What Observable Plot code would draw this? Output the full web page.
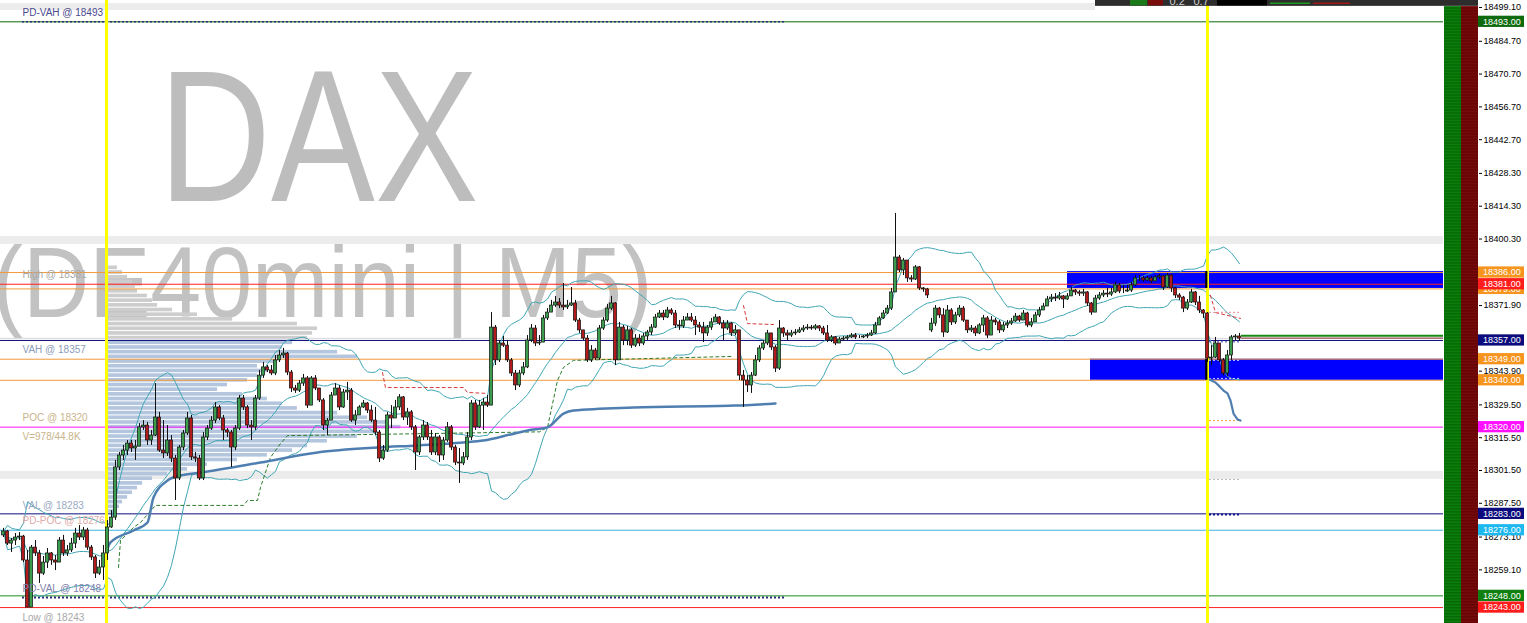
<!DOCTYPE html>
<html><head><meta charset="utf-8">
<script src="https://cdn.jsdelivr.net/npm/d3@7"></script>
<script src="https://cdn.jsdelivr.net/npm/@observablehq/plot@0.6"></script>
<style>html,body{margin:0;padding:0;background:#fff;overflow:hidden}#chart svg{display:block}</style>
</head><body><div id="chart"></div>
<script>
// ---------- DATA (DAX / DE40mini, M5 candles, index = bar number) ----------
const closes = [
18275.5,18270.3,18271.6,18272.9,18273.3,18263.1,18243.0,18268.6,18266.1,18257.5,
18262.2,18266.1,18263.1,18262.2,18271.6,18266.1,18267.4,18270.3,18274.6,18272.9,
18275.9,18268.6,18264.4,18257.5,18260.1,18266.1,18277.2,18281.4,18302.8,18307.9,
18310.0,18313.0,18310.9,18311.7,18319.9,18320.7,18314.3,18316.4,18324.1,18310.0,
18308.8,18314.3,18306.6,18298.1,18311.3,18317.3,18323.7,18307.1,18306.6,18298.1,
18315.6,18319.4,18322.8,18328.4,18323.7,18318.6,18317.7,18311.3,18319.4,18332.2,
18328.4,18320.7,18319.9,18332.2,18342.0,18345.5,18344.2,18342.9,18348.5,18350.6,
18351.4,18343.3,18336.5,18335.6,18338.6,18340.8,18329.2,18340.8,18336.5,18331.4,
18320.7,18322.8,18333.5,18336.5,18328.4,18334.8,18335.6,18322.8,18325.0,18328.4,
18330.1,18327.1,18322.8,18317.7,18306.6,18310.0,18325.0,18323.7,18328.4,18332.7,
18324.1,18326.3,18319.9,18309.2,18315.6,18320.7,18315.6,18309.2,18315.6,18307.9,
18314.3,18319.9,18311.3,18304.9,18304.5,18307.1,18315.6,18330.1,18319.9,18329.2,
18330.5,18329.2,18362.5,18348.5,18355.7,18354.8,18348.5,18342.9,18337.8,18342.9,
18345.5,18357.0,18362.1,18355.7,18356.1,18366.4,18368.9,18371.9,18373.2,18371.9,
18371.1,18371.9,18372.8,18365.5,18361.3,18357.8,18348.5,18352.7,18349.3,18362.1,
18365.5,18370.6,18372.8,18348.5,18362.5,18357.0,18361.3,18354.8,18357.8,18355.7,
18358.7,18360.4,18362.5,18366.8,18368.5,18366.8,18369.8,18368.5,18363.4,18363.0,
18365.5,18366.8,18365.5,18363.4,18362.5,18360.0,18362.5,18364.7,18366.8,18364.2,
18362.1,18364.2,18360.0,18361.3,18342.0,18339.9,18337.8,18342.0,18348.5,18353.6,
18355.7,18360.0,18354.0,18345.0,18362.1,18360.0,18359.1,18360.0,18360.4,18361.3,
18362.1,18362.5,18362.1,18363.0,18362.1,18360.0,18357.0,18358.3,18355.7,18357.4,
18357.8,18358.3,18359.1,18358.3,18358.3,18358.7,18359.1,18360.0,18363.4,18366.4,
18368.5,18370.6,18377.5,18392.4,18386.9,18391.1,18383.5,18383.0,18388.2,18379.2,
18378.8,18376.2,18364.2,18370.6,18367.7,18360.4,18369.8,18364.7,18367.7,18370.6,
18365.5,18361.3,18362.1,18360.0,18363.4,18366.4,18359.1,18365.5,18364.7,18361.3,
18363.4,18364.2,18365.1,18367.2,18365.5,18368.5,18363.4,18364.7,18367.7,18369.8,
18371.5,18374.5,18375.3,18374.9,18375.8,18374.5,18375.8,18378.3,18377.5,18377.0,
18377.5,18372.8,18368.9,18374.9,18376.2,18377.0,18376.6,18377.5,18380.5,18377.9,
18377.9,18378.3,18380.5,18383.5,18383.5,18382.6,18383.5,18382.2,18383.9,18384.3,
18379.6,18384.7,18379.2,18376.2,18375.3,18370.6,18373.2,18377.5,18373.2,18369.8,
18368.5,18349.3,18349.7,18355.7,18348.5,18342.9,18350.6,18358.3,18358.7,18357.8];
const highs = [
18276.8,18275.9,18272.5,18274.6,18275.0,18273.8,18267.4,18269.5,18271.6,18267.4,
18264.8,18268.2,18266.5,18265.2,18272.9,18273.8,18269.5,18272.5,18276.8,18278.0,
18277.2,18276.8,18269.5,18265.2,18263.1,18269.5,18280.2,18284.4,18305.8,18309.2,
18312.2,18314.3,18314.3,18314.3,18321.5,18322.8,18322.0,18318.6,18338.6,18326.3,
18322.8,18320.7,18316.4,18307.9,18312.2,18318.6,18326.3,18325.0,18309.2,18307.9,
18317.7,18320.7,18324.5,18330.5,18329.2,18325.0,18319.4,18318.6,18320.7,18333.5,
18333.5,18329.2,18322.8,18333.5,18344.2,18347.6,18346.3,18346.3,18350.6,18352.7,
18353.6,18351.9,18344.2,18337.8,18339.9,18342.5,18341.6,18341.6,18342.0,18336.5,
18332.2,18323.7,18334.8,18338.6,18337.8,18336.1,18339.1,18336.5,18327.1,18329.2,
18331.4,18330.5,18329.2,18328.4,18318.6,18312.2,18326.3,18329.2,18331.4,18333.9,
18333.1,18328.0,18327.1,18320.7,18316.4,18322.8,18322.0,18318.6,18317.3,18316.4,
18315.6,18322.0,18320.7,18312.2,18310.9,18309.2,18317.7,18331.4,18331.4,18331.4,
18332.2,18333.5,18368.9,18363.4,18357.0,18358.7,18357.0,18349.3,18344.2,18344.2,
18347.6,18359.1,18363.8,18363.4,18359.1,18367.7,18370.6,18374.1,18375.8,18374.9,
18381.3,18374.1,18379.6,18374.1,18366.4,18361.3,18359.1,18354.8,18353.6,18363.4,
18366.8,18372.4,18375.8,18373.2,18364.7,18363.4,18363.0,18362.1,18359.5,18359.5,
18360.0,18361.3,18363.8,18368.1,18369.8,18369.8,18371.1,18370.6,18369.8,18365.5,
18367.2,18368.5,18368.5,18367.2,18364.7,18364.7,18363.4,18366.4,18368.1,18367.2,
18365.5,18365.5,18364.7,18363.4,18361.3,18344.2,18342.0,18343.3,18350.6,18354.8,
18357.0,18361.3,18360.0,18354.8,18365.5,18362.5,18361.3,18361.3,18361.7,18362.5,
18363.4,18363.8,18363.4,18363.8,18363.4,18363.0,18363.4,18359.1,18358.7,18358.3,
18358.7,18359.1,18360.0,18360.0,18359.1,18359.1,18360.0,18361.3,18364.7,18367.2,
18369.8,18371.9,18379.2,18411.2,18393.3,18392.0,18391.1,18384.7,18389.0,18388.6,
18379.6,18379.2,18366.4,18371.9,18371.1,18370.6,18371.9,18370.6,18369.0,18371.9,
18371.5,18365.5,18363.4,18363.0,18364.2,18367.7,18367.2,18367.2,18366.4,18365.5,
18364.7,18365.5,18366.4,18368.5,18367.7,18369.8,18369.0,18366.4,18369.0,18371.1,
18372.8,18375.8,18376.6,18377.0,18377.5,18376.2,18377.0,18379.6,18378.8,18378.3,
18378.8,18377.9,18373.2,18376.2,18377.5,18378.3,18379.2,18379.2,18381.8,18381.3,
18380.5,18380.5,18381.8,18384.7,18384.7,18384.3,18384.3,18384.3,18384.7,18385.2,
18384.7,18385.6,18385.2,18379.6,18377.0,18375.8,18374.5,18378.8,18377.9,18375.8,
18370.2,18368.9,18354.8,18358.3,18355.7,18349.3,18352.7,18359.1,18359.5,18360.0];
const lows = [
18272.9,18269.5,18266.5,18269.5,18271.6,18262.2,18243.0,18243.0,18264.8,18253.3,
18256.7,18259.7,18261.0,18258.8,18262.2,18264.8,18264.8,18266.5,18268.2,18271.6,
18271.6,18267.4,18263.1,18255.4,18256.7,18254.6,18263.1,18276.8,18280.2,18301.5,
18305.8,18307.9,18309.2,18305.8,18312.2,18318.6,18312.2,18312.2,18316.0,18309.2,
18306.6,18307.5,18304.9,18288.7,18297.2,18310.0,18316.4,18305.8,18304.9,18297.2,
18297.2,18314.3,18318.6,18321.5,18322.8,18314.3,18315.6,18302.8,18310.0,18318.6,
18327.1,18319.4,18314.3,18318.6,18331.4,18340.8,18343.3,18342.0,18342.0,18347.6,
18349.3,18342.0,18334.8,18334.4,18334.8,18337.4,18328.0,18329.2,18335.6,18330.5,
18318.6,18316.4,18322.8,18333.5,18327.1,18328.0,18331.4,18322.0,18320.7,18325.0,
18328.0,18325.8,18322.0,18316.4,18304.9,18305.8,18309.2,18319.4,18323.7,18327.1,
18322.8,18320.7,18318.6,18301.5,18307.9,18314.3,18314.3,18307.9,18307.9,18304.9,
18305.8,18313.5,18310.0,18303.6,18296.0,18303.6,18305.8,18314.3,18318.6,18319.4,
18318.6,18328.4,18329.2,18346.3,18347.6,18354.0,18347.6,18341.6,18335.6,18336.9,
18342.0,18345.0,18356.1,18354.4,18354.8,18356.1,18365.5,18368.9,18371.1,18370.6,
18369.8,18370.2,18371.5,18364.7,18360.0,18357.0,18347.6,18347.6,18348.5,18348.5,
18361.3,18364.7,18369.8,18346.3,18348.5,18354.8,18354.8,18353.6,18354.0,18354.4,
18354.8,18357.0,18359.1,18362.1,18366.4,18365.5,18366.4,18367.7,18362.1,18361.3,
18362.1,18365.5,18364.7,18359.1,18360.4,18356.1,18358.7,18361.3,18364.7,18363.4,
18357.0,18361.3,18358.7,18359.1,18339.9,18328.4,18334.8,18334.4,18341.6,18347.6,
18352.7,18354.8,18352.7,18343.3,18344.2,18358.3,18357.0,18358.3,18359.1,18360.0,
18360.4,18361.3,18361.3,18361.3,18360.8,18359.1,18356.1,18356.1,18354.8,18356.1,
18356.6,18357.0,18357.8,18357.4,18357.8,18357.8,18357.8,18358.7,18359.5,18363.8,
18366.0,18368.1,18369.8,18378.3,18386.0,18384.7,18381.8,18381.8,18382.6,18378.3,
18377.5,18374.9,18360.4,18363.0,18366.4,18358.3,18360.0,18363.4,18363.8,18366.8,
18364.7,18360.0,18360.4,18358.7,18359.5,18360.4,18357.8,18359.1,18363.4,18360.0,
18360.4,18362.1,18363.4,18364.7,18364.7,18365.5,18362.5,18362.5,18364.7,18366.8,
18369.8,18371.5,18373.2,18373.6,18374.1,18370.6,18374.1,18375.8,18376.2,18375.8,
18375.8,18371.5,18367.7,18368.9,18374.1,18375.3,18375.3,18375.8,18377.0,18377.0,
18377.0,18377.5,18377.5,18380.0,18382.2,18381.8,18382.2,18381.3,18382.2,18383.0,
18378.3,18379.2,18377.5,18374.9,18374.1,18368.9,18369.8,18372.8,18371.9,18368.5,
18366.4,18347.6,18346.3,18349.3,18347.6,18342.0,18341.6,18348.5,18357.0,18356.6];
const firstOpen = 18273.8;
const gapOpens = {232: 18361.3};

// session starts (bar index of the yellow separators)
const sessionStarts = [25.75, 301];

// key levels
const levelPrice = [18493, 18386, 18381, 18379, 18357, 18349, 18340, 18320, 18283, 18276, 18248, 18243];
const levelLabel = ["18493.00","18386.00","18381.00","18379.00","18357.00","18349.00","18340.00","18320.00","18283.00","18276.00","18248.00","18243.00"];

// left-hand level names
const nameText = ["PD-VAH @ 18493","High @ 18381","VAH @ 18357","POC @ 18320","V=978/44.8K","VAL @ 18283","PD-POC @ 18276","PD-VAL @ 18248","Low @ 18243"];
const namePrice = [18493, 18381, 18357, 18320, 18320, 18283, 18276, 18248, 18243];

// supply / demand zones
const zoneStart = [266, 271.75];
const zoneLow = [18379.2, 18340.0];
const zoneHigh = [18386.4, 18349.0];

// round-number bands
const bandLow = [18497.8, 18398.0, 18297.7];
const bandHigh = [18500.8, 18401.4, 18301.1];

// volume profile of the session (price row, contracts)
const profilePrice = [18388,18386,18384,18382,18380,18378,18376,18374,18372,18370,18368,18366,18364,18362,18360,18358,18356,18354,18352,18350,18348,18346,18344,18342,18340,18338,18336,18334,18332,18330,18328,18326,18324,18322,18320,18318,18316,18314,18312,18310,18308,18306,18304,18302,18300,18298,18296,18294,18292,18290,18288,18286,18284];
const profileVol = [33,50,67,83,93,100,133,150,167,217,300,417,633,700,683,667,617,583,767,833,567,500,533,500,467,400,367,450,533,583,633,767,867,933,978,900,833,733,667,617,533,433,333,267,200,150,117,100,83,67,50,40,33];
const VAH = 18357, VAL = 18283;

// developing VWAP (session 1 and session 2)
const vwapIdx = [26,26.75,32.5,36,37.5,41,44.25,49.25,64.25,78.5,93.5,103.5,115,120,126.75,131,136,140,142.5,157.5,182.5,193];
const vwapVal = [18268.2,18270.8,18275.9,18279.3,18290.0,18297.2,18299.4,18300.6,18304.9,18309.2,18311.3,18312.2,18313.5,18314.3,18316.9,18318.6,18319.9,18325.8,18327.1,18328.4,18329.2,18330.1];
const vwap2Idx = [301,302,303,304,305,306,306.75,307.5,308.5,309.25];
const vwap2Val = [18340.8,18339.9,18339.1,18337.4,18335.6,18334.4,18331.4,18325.8,18323.3,18322.8];

// developing value-area edges (dashed)
const devValIdx = [28.75,29.25,32.5,34.25,38,60,61,63.5,64.25,66.75,69.25,71,92.5,134,136,138.5,140,142.5,182.5];
const devValVal = [18260.1,18271.6,18277.2,18279.3,18286.6,18286.6,18288.7,18288.7,18294.3,18307.1,18313.0,18316.4,18316.9,18318.0,18319.9,18339.9,18345.5,18348.5,18350.2];
const devVah1Idx = [94.75,95.5,115,116,121];
const devVah1Val = [18343.3,18336.9,18336.9,18334.8,18334.4];
const devVah2Idx = [185,186,192.5];
const devVah2Val = [18371.9,18364.2,18363.8];
const devVah3Idx = [301.75,303,309.25];
const devVah3Val = [18376.2,18368.9,18366.4];

// current-session short markers
const markPrice = [18282.7, 18297.7, 18322.8, 18369.0, 18356.4, 18348.5, 18340.8];
// bid / ask
const bidAsk = [18359.0, 18358.0];

// right axis ticks
const yTicks = [18499.1,18484.7,18470.7,18456.7,18442.7,18428.3,18414.3,18400.3,18371.9,18343.9,18329.5,18315.5,18301.5,18287.5,18273.1,18259.1];

// ---------- STYLES / LAYOUT ----------
const W = 1527, H = 623;
const X0 = -0.75, X1 = 368.75;         // bar-index domain of the frame
const chartEnd = 360;                   // chart body ends here, indicator columns follow
const colMid = 364.5;
const toolbarStart = 273;
const levelColor = ["#0d6b0d","#f39a3c","#ff2020","#f39a3c","#0b0b7d","#f39a3c","#f39a3c","#ff14ff","#0b0b7d","#3cb4e0","#1f8c1f","#ff2020"];
const boxColor   = ["#0d6b0d","#f7941d","#ff1c1c","#f7941d","#0b0b7d","#f7941d","#f7941d","#ff10ff","#0b0b7d","#1db8ee","#0f7f0f","#ff1c1c"];
const nameColor = ["#4b4b8e","#a8a8a8","#8d9cb8","#c9b48a","#c9b48a","#9aa9c2","#dfa9a9","#7f7fae","#a8a8a8"];
const nameDy = [-9,-9,9,-9,10,-8,-9,-7,10];
const markColor = ["#1a1a8a","#b8b8b8","#f0a040","#e89090","#4040a0","#c8c8ff","#c8c8ff"];

// ---------- DERIVED ----------
const candles = closes.map((c, i) => {
  const o = i === 0 ? firstOpen : (gapOpens[i] ?? closes[i - 1]);
  return {i, o, c, h: Math.max(highs[i], o, c), l: Math.min(lows[i], o, c)};
});
const bb = closes.map((c, i) => {
  const w = closes.slice(Math.max(0, i - 19), i + 1);
  const m = d3.mean(w);
  const s = Math.sqrt(d3.mean(w, v => (v - m) ** 2));
  return {i, m, up: m + 2 * s, lo: m - 2 * s};
});
const profile = profilePrice.map((p, k) => ({p, v: profileVol[k]}));
const zip = (a, b) => a.map((x, k) => ({x, y: b[k]}));
const zones = zoneStart.map((s, k) => ({s, lo: zoneLow[k], hi: zoneHigh[k]}));
const bands = bandLow.map((lo, k) => ({lo, hi: bandHigh[k]}));
const stripes = d3.range(18236.5, 18499.5, 1.28);

const marks = [];
// round bands
marks.push(Plot.rect(bands, {x1: X0, x2: d => d.hi > 18490 ? toolbarStart : chartEnd, y1: "lo", y2: "hi", fill: "#ececec"}));
// watermark
marks.push(Plot.text(["DAX"], {text: d => d, frameAnchor: "top-left", dx: 158, dy: 200, textAnchor: "start", lineAnchor: "bottom", fontSize: 188, fill: "#bdbdbd", fontFamily: "Liberation Sans"}));
marks.push(Plot.text(["(DE40mini | M5)"], {text: d => d, frameAnchor: "top-left", dx: -8, dy: 316, textAnchor: "start", lineAnchor: "bottom", fontSize: 100, fill: "#c2c2c2", fontFamily: "Liberation Sans"}));
// volume profile
const inVA = d => d.p >= VAL && d.p <= VAH;
marks.push(Plot.rect(profile.filter(d => !inVA(d)), {x1: 26, x2: d => 26 + d.v * 0.075, y1: d => d.p - 0.78, y2: d => d.p + 0.78, fill: "#cdcdcd"}));
marks.push(Plot.rect(profile.filter(inVA), {x1: 26, x2: d => 26 + d.v * 0.075, y1: d => d.p - 0.78, y2: d => d.p + 0.78, fill: "#b3c6de"}));
// zones
marks.push(Plot.rect(zones, {x1: "s", x2: chartEnd, y1: "lo", y2: "hi", fill: "#0000ff"}));
// bid line
marks.push(Plot.ruleY([18357.9], {x1: X0, x2: 309, stroke: "#d6d6dc", strokeWidth: 1}));
// level lines
levelPrice.forEach((p, k) => marks.push(Plot.ruleY([p], {x1: X0, x2: chartEnd, stroke: levelColor[k], strokeWidth: 1})));
// previous-day dashed markers
marks.push(Plot.ruleY([18493], {x1: 4.75, x2: 195.5, stroke: "#2a2a7a", strokeWidth: 1.5, strokeDasharray: "2,2"}));
marks.push(Plot.ruleY([18247.3], {x1: 4.75, x2: 195.5, stroke: "#2a2a7a", strokeWidth: 2.2, strokeDasharray: "2,2"}));
// Bollinger bands (20, 2)
for (const key of ["up", "m", "lo"]) marks.push(Plot.line(bb, {x: "i", y: key, stroke: "#3fa6b4", strokeWidth: 1}));
// developing value area
marks.push(Plot.line(zip(devValIdx, devValVal), {x: "x", y: "y", stroke: "#2b7d2b", strokeWidth: 1, strokeDasharray: "3,3"}));
for (const [a, b] of [[devVah1Idx, devVah1Val], [devVah2Idx, devVah2Val], [devVah3Idx, devVah3Val]])
  marks.push(Plot.line(zip(a, b), {x: "x", y: "y", stroke: "#d83a3a", strokeWidth: 1, strokeDasharray: "3,3"}));
markPrice.forEach((p, k) => marks.push(Plot.ruleY([p], {x1: 301.5, x2: 309.5, stroke: markColor[k], strokeWidth: k === 0 ? 2 : 1, strokeDasharray: "2,2"})));
// VWAP
marks.push(Plot.line(zip(vwapIdx, vwapVal), {x: "x", y: "y", stroke: "#4f7fb0", strokeWidth: 2.5, curve: "monotone-x"}));
marks.push(Plot.line(zip(vwap2Idx, vwap2Val), {x: "x", y: "y", stroke: "#4f7fb0", strokeWidth: 2.2}));
// session separators
marks.push(Plot.ruleX(sessionStarts, {stroke: "#ffff00", strokeWidth: 3}));
marks.push(Plot.rect(zones, {x1: 300.55, x2: 301.1, y1: "lo", y2: "hi", fill: "#000"}));
// candles
marks.push(Plot.ruleX(candles, {x: "i", y1: "l", y2: "h", stroke: "#111", strokeWidth: 1}));
marks.push(Plot.rect(candles.filter(d => d.c >= d.o), {x1: d => d.i - 0.4, x2: d => d.i + 0.4, y1: "o", y2: "c", fill: "#3a9c4c", stroke: "#111", strokeWidth: 0.7}));
marks.push(Plot.rect(candles.filter(d => d.c < d.o), {x1: d => d.i - 0.4, x2: d => d.i + 0.4, y1: "o", y2: "c", fill: "#b21b1b", stroke: "#111", strokeWidth: 0.7}));
// bid/ask extension
marks.push(Plot.ruleY([bidAsk[0]], {x1: 309.5, x2: chartEnd, stroke: "#168a16", strokeWidth: 2}));
marks.push(Plot.ruleY([bidAsk[1]], {x1: 309.5, x2: chartEnd, stroke: "#7a1a1a", strokeWidth: 1}));
// level names
nameText.forEach((t, k) => marks.push(Plot.text([namePrice[k]], {x: 4.75, y: d => d, text: () => t, dy: nameDy[k], textAnchor: "start", lineAnchor: "middle", fontSize: 10, fill: nameColor[k], fontFamily: "Liberation Sans"})));
// indicator columns
marks.push(Plot.rect([0], {x1: chartEnd + 0.25, x2: colMid, y1: 18236.2, y2: 18499.5, fill: "#0b7d0b"}));
marks.push(Plot.rect([0], {x1: colMid, x2: X1, y1: 18236.2, y2: 18499.5, fill: "#760a0a"}));
marks.push(Plot.ruleY(stripes, {x1: chartEnd + 0.25, x2: colMid, stroke: "#066006", strokeWidth: 1}));
marks.push(Plot.ruleY(stripes, {x1: colMid, x2: X1, stroke: "#5e0404", strokeWidth: 1}));
// toolbar
marks.push(Plot.rect([0], {x1: toolbarStart, x2: X1, y1: 18499.6, y2: 18503, fill: "#2d2d2d"}));
marks.push(Plot.rect([0], {x1: 281.75, x2: 286, y1: 18499.8, y2: 18503, fill: "#1a7a1a"}));
marks.push(Plot.rect([0], {x1: 286.25, x2: 290, y1: 18499.8, y2: 18503, fill: "#7a0c0c"}));
marks.push(Plot.rect([0], {x1: 303.5, x2: 316, y1: 18499.8, y2: 18503, fill: "#000"}));
marks.push(Plot.ruleY([18500.9], {x1: 316.75, x2: 326.75, stroke: "#1f9a1f", strokeWidth: 1.5}));
marks.push(Plot.ruleY([18500.9], {x1: 327.5, x2: 336.75, stroke: "#a01818", strokeWidth: 1.5}));
marks.push(Plot.text(["0.2", "0.7"], {x: [291.5, 297.5], y: 18500.0, text: d => d, textAnchor: "start", lineAnchor: "bottom", fontSize: 11, fill: "#cfcfcf", fontFamily: "Liberation Sans"}));
// right axis
marks.push(Plot.axisY(yTicks, {anchor: "right", tickSize: 3, tickPadding: 2, tickFormat: d => d.toFixed(2), fontSize: 9, label: null, fontFamily: "Liberation Sans"}));
// right-axis level boxes (18379 first, partly hidden)
const boxOrder = [0, 3, 1, 2, 4, 5, 6, 7, 8, 9, 10, 11];
for (const k of boxOrder) {
  marks.push(Plot.rect([levelPrice[k]], {x1: X1, x2: 380.25, y1: d => d - 2.4, y2: d => d + 2.4, fill: boxColor[k]}));
  marks.push(Plot.text([levelPrice[k]], {x: 369.9, y: d => d, text: () => levelLabel[k], textAnchor: "start", lineAnchor: "middle", fontSize: 9, fill: "#fff", fontFamily: "Liberation Sans"}));
}

const chart = Plot.plot({
  width: W, height: H,
  marginLeft: 0, marginRight: 49, marginTop: 0, marginBottom: 0,
  x: {domain: [X0, X1], axis: null},
  y: {domain: [18236.2, 18502.1], axis: null},
  style: {background: "#fff", fontFamily: "Liberation Sans", fontSize: "9px", color: "#000"},
  marks
});
d3.select(chart).selectAll("text").each(function () {
  if (this.textContent === "DAX") d3.select(this).attr("textLength", 320).attr("lengthAdjust", "spacingAndGlyphs");
  if (this.textContent === "(DE40mini | M5)") d3.select(this).attr("textLength", 660).attr("lengthAdjust", "spacingAndGlyphs");
});
document.getElementById("chart").appendChild(chart);
</script>
</body></html>
